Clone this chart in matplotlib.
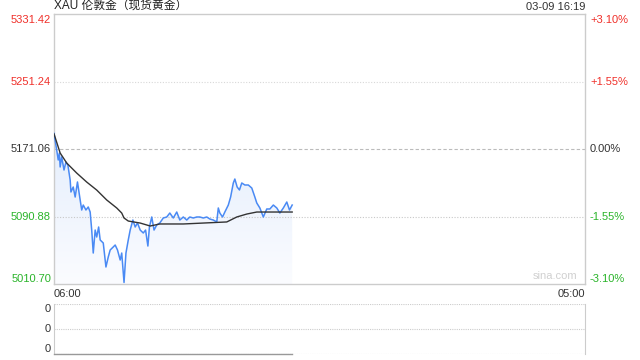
import numpy as np
import matplotlib.pyplot as plt
from matplotlib.colors import LinearSegmentedColormap

plt.rcParams['font.family'] = ['Liberation Sans', 'Noto Sans CJK SC', 'DejaVu Sans']

# data: minutes since 06:00 and price
price_min = [0, 7, 11, 14, 16, 20, 26, 31, 36, 42, 44, 50, 55, 61, 68, 72, 76, 83, 89, 94,
             98, 102, 107, 111, 116, 120, 128, 135, 141, 146, 154, 159, 165, 172, 176, 182, 187, 193, 198, 205,
             211, 217, 224, 232, 238, 244, 248, 254, 260, 267, 275, 284, 293, 301, 310, 319, 327, 336, 345, 353,
             362, 371, 379, 388, 397, 405, 414, 423, 427, 431, 438, 444, 453, 459, 466, 470, 476, 482, 488, 496,
             505, 514, 522, 527, 535, 544, 553, 561, 570, 579, 587, 596, 605, 612, 619]
price = [5189.7, 5169.9, 5158.0, 5166.3, 5149.7, 5161.6, 5146.1, 5155.6, 5152.1, 5134.2,
         5120.0, 5125.9, 5114.0, 5131.9, 5110.5, 5098.6, 5104.5, 5098.6, 5102.2, 5096.2,
         5074.8, 5047.5, 5074.8, 5066.5, 5078.4, 5063.0, 5059.4, 5030.9, 5042.8, 5051.1,
         5054.7, 5057.0, 5051.1, 5039.2, 5047.5, 5012.5, 5047.5, 5063.0, 5074.8, 5086.7,
         5078.4, 5083.2, 5074.8, 5071.3, 5074.8, 5055.8, 5078.4, 5090.3, 5074.8, 5080.8,
         5083.2, 5089.1, 5090.3, 5095.0, 5089.1, 5096.2, 5086.7, 5090.3, 5086.7, 5090.3,
         5089.1, 5090.3, 5090.3, 5089.1, 5090.3, 5087.9, 5086.7, 5084.4, 5101.0, 5095.0,
         5090.3, 5096.2, 5104.5, 5114.0, 5130.7, 5135.4, 5125.9, 5122.4, 5130.7, 5128.3,
         5128.3, 5124.7, 5114.0, 5106.9, 5101.0, 5090.3, 5099.8, 5099.8, 5104.5, 5101.0,
         5095.0, 5101.0, 5108.1, 5098.6, 5104.5]

avg_min = [0, 16, 33, 59, 85, 111, 137, 163, 176, 182, 193, 224, 250, 275, 336, 449, 475, 501, 527, 619]
avg = [5189.0, 5166.3, 5154.4, 5142.5, 5131.8, 5122.3, 5110.5, 5101.0, 5095.0, 5089.1,
       5085.5, 5083.1, 5079.6, 5082.0, 5082.0, 5084.4, 5090.3, 5093.8, 5096.2, 5096.2]

price_ticks = [5331.42, 5251.24, 5171.06, 5090.88, 5010.70]
pct_ticks = ['+3.10%', '+1.55%', '0.00%', '-1.55%', '-3.10%']
tick_colors = ['#f0302a', '#f0302a', '#333333', '#2ab42a', '#2ab42a']
total_min = 1380  # 06:00 -> 05:00

fig = plt.figure(figsize=(6.4, 3.6), dpi=100)
ax = fig.add_axes([54 / 640, 76 / 360, 531 / 640, 270 / 360])
ax.set_xlim(0, total_min)
ax.set_ylim(price_ticks[-1], price_ticks[0])

# gradient under the price line
cmap = LinearSegmentedColormap.from_list('g', ['#d2e2fa', '#fbfcff'])
grad = np.linspace(0, 1, 256).reshape(-1, 1)
im = ax.imshow(grad, cmap=cmap, aspect='auto', extent=[0, total_min, price_ticks[-1], price_ticks[0]],
               origin='upper', zorder=1)
poly = ax.fill_between(price_min, price, price_ticks[-1], color='none', lw=0)
im.set_clip_path(poly.get_paths()[0], transform=ax.transData)

ax.plot(price_min, price, color='#4a8af4', lw=1.1, zorder=3)
ax.plot(avg_min, avg, color='#333333', lw=1.0, zorder=4)

ax.axhline(price_ticks[1], color='#d8d8d8', lw=0.8, ls=(0, (1, 1.5)), zorder=2)
ax.axhline(price_ticks[2], color='#bbbbbb', lw=0.8, ls=(0, (3, 2)), zorder=2)
ax.axhline(price_ticks[3], color='#c8c8c8', lw=0.8, ls=(0, (1, 1.5)), zorder=2)

for s in ax.spines.values():
    s.set_color('#cccccc')
    s.set_linewidth(1)
ax.set_xticks([])
ax.set_yticks([])

for i, (v, p, c) in enumerate(zip(price_ticks, pct_ticks, tick_colors)):
    off = -6 if i == 0 else 0
    va = 'bottom' if i == 4 else 'center'
    ax.annotate(f'{v:.2f}', (0, v), xycoords=('axes fraction', 'data'), xytext=(-3, off),
                textcoords='offset pixels', ha='right', va=va, fontsize=8, color=c)
    ax.annotate(p, (1, v), xycoords=('axes fraction', 'data'), xytext=(5, off),
                textcoords='offset pixels', ha='left', va=va, fontsize=8, color=c)

ax.text(0, 1.008, 'XAU 伦敦金（现货黄金）', transform=ax.transAxes, ha='left', va='bottom', fontsize=8.5, color='#222222')
ax.text(1, 1.008, '03-09 16:19', transform=ax.transAxes, ha='right', va='bottom', fontsize=8, color='#333333')
ax.text(0.985, 0.01, 'sina.com', transform=ax.transAxes, ha='right', va='bottom', fontsize=8, color='#d0d0d0')
ax.text(0, -0.02, '06:00', transform=ax.transAxes, ha='left', va='top', fontsize=8, color='#333333')
ax.text(1, -0.02, '05:00', transform=ax.transAxes, ha='right', va='top', fontsize=8, color='#333333')

# volume panel (all zero)
vol_min = np.arange(0, 620)
vol = np.zeros_like(vol_min)
bx = fig.add_axes([54 / 640, 6 / 360, 531 / 640, 50 / 360])
bx.set_xlim(0, total_min)
bx.set_ylim(0, 1)
bx.vlines(vol_min, 0, vol, color='#888888')
bx.plot([0, 619], [0, 0], color='#999999', lw=1.0, zorder=3, clip_on=False)
for yv, va in zip([0, 0.5, 1], ['bottom', 'center', 'top']):
    bx.axhline(yv, color='#cccccc', lw=0.8, ls=(0, (1, 1)))
    bx.annotate('0', (0, yv), xycoords=('axes fraction', 'data'), xytext=(-3, 0),
                textcoords='offset pixels', ha='right', va=va, fontsize=8, color='#333333')
for k in ['top', 'bottom']:
    bx.spines[k].set_visible(False)
for k in ['left', 'right']:
    bx.spines[k].set_color('#cccccc')
bx.set_xticks([])
bx.set_yticks([])

fig.savefig('out.png', dpi=100)
